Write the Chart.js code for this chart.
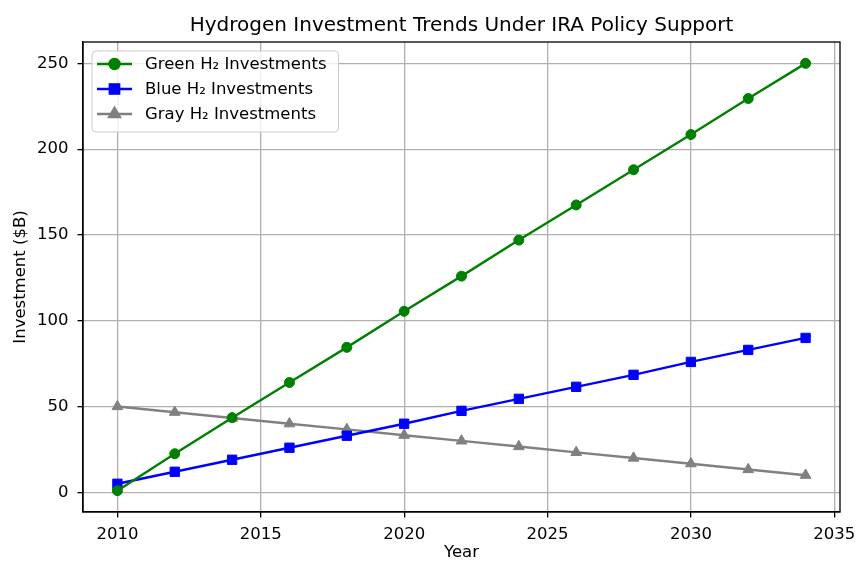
<!DOCTYPE html>
<html>
<head>
    <title>Hydrogen Investment Trends</title>
    <script src="https://cdn.jsdelivr.net/npm/chart.js"></script>
    <style>
        body { margin: 0; background: #fff; }
        #wrap { width: 857px; height: 561px; }
    </style>
</head>
<body>
    <div id="wrap"><canvas id="myChart" width="857" height="561"></canvas></div>

    <script>
        // Values
        const years = [2010, 2012, 2014, 2016, 2018, 2020, 2022, 2024, 2026, 2028, 2030, 2032, 2034];
        const greenH2 = [1, 22.5, 43.5, 64, 84.5, 105.5, 126, 147, 167.5, 188, 208.5, 229.5, 250];
        const blueH2 = [5, 12, 19, 26, 33, 40, 47.5, 54.5, 61.5, 68.5, 76, 83, 90];
        const grayH2 = [50, 46.7, 43.3, 40, 36.7, 33.3, 30, 26.7, 23.3, 20, 16.7, 13.3, 10];
        const xTicks = [2010, 2015, 2020, 2025, 2030, 2035];
        const yTicks = [0, 50, 100, 150, 200, 250];
        const seriesLabels = ['Green H\u2082 Investments', 'Blue H\u2082 Investments', 'Gray H\u2082 Investments'];

        const FONT = 'DejaVu Sans';
        const FS = 16.5;

        function toPoints(vals) {
            return vals.map((v, i) => ({ x: years[i], y: v }));
        }

        // full box around the plot, like matplotlib spines
        const frame = {
            id: 'frame',
            afterDatasetsDraw(chart) {
                const a = chart.chartArea;
                const ctx = chart.ctx;
                ctx.save();
                ctx.strokeStyle = '#000';
                ctx.lineWidth = 1.3;
                ctx.strokeRect(a.left, a.top, a.right - a.left, a.bottom - a.top);
                ctx.restore();
            }
        };

        // legend drawn inside the plot, upper left
        const innerLegend = {
            id: 'innerLegend',
            afterDraw(chart) {
                const a = chart.chartArea;
                const ctx = chart.ctx;
                ctx.save();
                ctx.font = FS + 'px "' + FONT + '"';
                let maxW = 0;
                chart.data.datasets.forEach(ds => { maxW = Math.max(maxW, ctx.measureText(ds.label).width); });
                const left = a.left + 9, top = a.top + 9;
                const w = 53 + maxW + 12, h = 81;
                ctx.beginPath();
                ctx.roundRect(left, top, w, h, 4);
                ctx.fillStyle = 'rgba(255,255,255,0.8)';
                ctx.fill();
                ctx.strokeStyle = '#cccccc';
                ctx.lineWidth = 1;
                ctx.stroke();
                chart.data.datasets.forEach((ds, i) => {
                    const y = top + 13 + i * 25;
                    ctx.strokeStyle = ds.borderColor;
                    ctx.lineWidth = ds.borderWidth;
                    ctx.beginPath();
                    ctx.moveTo(left + 5, y);
                    ctx.lineTo(left + 40, y);
                    ctx.stroke();
                    Chart.helpers.drawPoint(ctx, {
                        pointStyle: ds.pointStyle, radius: ds.pointRadius, borderWidth: 1, rotation: 0
                    }, left + 22.5, y);
                    ctx.fillStyle = ds.backgroundColor;
                    ctx.strokeStyle = ds.borderColor;
                    ctx.lineWidth = 1;
                    ctx.fill();
                    ctx.stroke();
                    ctx.fillStyle = '#000';
                    ctx.textBaseline = 'middle';
                    ctx.textAlign = 'left';
                    ctx.fillText(ds.label, left + 53, y + 1);
                });
                ctx.restore();
            }
        };

        let ctx = document.getElementById('myChart').getContext('2d');
        window.myChart = new Chart(ctx, {
            type: 'line',
            data: {
                datasets: [{
                    label: seriesLabels[0],
                    data: toPoints(greenH2),
                    borderColor: 'green',
                    backgroundColor: 'green',
                    borderWidth: 2.4,
                    pointStyle: 'circle',
                    pointRadius: 5,
                    pointBorderWidth: 1
                }, {
                    label: seriesLabels[1],
                    data: toPoints(blueH2),
                    borderColor: 'blue',
                    backgroundColor: 'blue',
                    borderWidth: 2.4,
                    pointStyle: 'rect',
                    pointRadius: 6.6,
                    pointBorderWidth: 1
                }, {
                    label: seriesLabels[2],
                    data: toPoints(grayH2),
                    borderColor: 'gray',
                    backgroundColor: 'gray',
                    borderWidth: 2.4,
                    pointStyle: 'triangle',
                    pointRadius: 6.2,
                    pointBorderWidth: 1
                }]
            },
            options: {
                responsive: false,
                animation: false,
                layout: { padding: { left: 0, right: 17, top: 0, bottom: 0 } },
                plugins: {
                    legend: { display: false },
                    tooltip: { enabled: false },
                    title: {
                        display: true,
                        fullSize: false,
                        text: 'Hydrogen Investment Trends Under IRA Policy Support',
                        color: '#000',
                        font: { family: FONT, size: 20, weight: 'normal' },
                        padding: { top: 14, bottom: 4 }
                    }
                },
                scales: {
                    x: {
                        type: 'linear',
                        min: 2008.8,
                        max: 2035.2,
                        afterBuildTicks: s => { s.ticks = xTicks.map(v => ({ value: v })); },
                        afterFit: s => { s.height = 49; s.paddingLeft = 0; s.paddingRight = 0; },
                        ticks: {
                            color: '#000', font: { family: FONT, size: FS }, padding: 7, maxRotation: 0,
                            callback: v => String(v)
                        },
                        grid: { color: '#b0b0b0', lineWidth: 1.3, tickColor: '#000', tickLength: 5.5, tickWidth: 1.3 },
                        border: { color: '#000', width: 1.3 },
                        title: { display: true, text: 'Year', color: '#000', font: { family: FONT, size: FS }, padding: { top: 0, bottom: -2 } }
                    },
                    y: {
                        min: -11.45,
                        max: 262.45,
                        afterBuildTicks: s => { s.ticks = yTicks.map(v => ({ value: v })); },
                        afterFit: s => { s.width = 83; },
                        ticks: { color: '#000', font: { family: FONT, size: FS }, padding: 9 },
                        grid: { color: '#b0b0b0', lineWidth: 1.3, tickColor: '#000', tickLength: 5.5, tickWidth: 1.3 },
                        border: { color: '#000', width: 1.3 },
                        title: { display: true, text: 'Investment ($B)', color: '#000', font: { family: FONT, size: FS }, padding: { top: 10.5, bottom: 0 } }
                    }
                }
            },
            plugins: [frame, innerLegend]
        });
    </script>
</body>
</html>
